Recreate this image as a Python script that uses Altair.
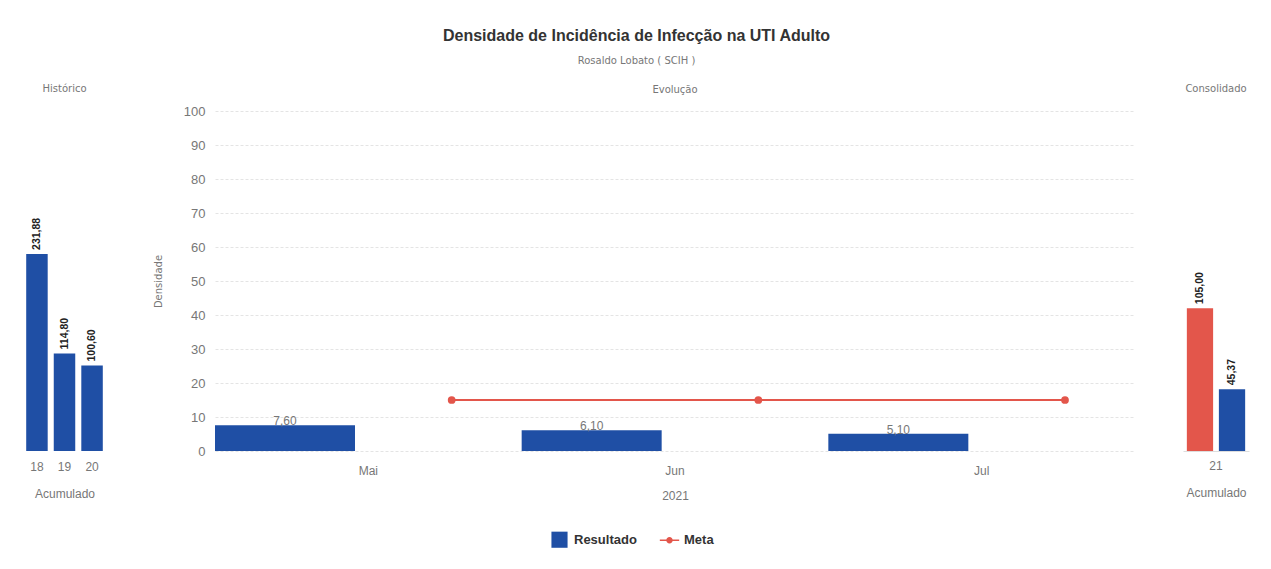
import altair as alt
import pandas as pd

# ---------------- data ----------------
meses = ["Mai", "Jun", "Jul"]
resultado = [7.60, 6.10, 5.10]
meta = [15.0, 15.0, 15.0]
series = ["Resultado", "Meta"]

hist_anos = ["18", "19", "20"]
hist_vals = [231.88, 114.80, 100.60]

cons_anos = ["21", "21"]
cons_series = ["Meta", "Resultado"]
cons_vals = [105.00, 45.37]

BLUE = "#1f4fa5"
RED = "#e3564b"
FONT = "Liberation Sans"
SMALL_FONT = "DejaVu Sans"
GRAY = "#777777"


def br(v):
    return f"{v:.2f}".replace(".", ",")


evo = pd.DataFrame(
    [{"mes": m, "serie": "Resultado", "valor": v, "rotulo": br(v)} for m, v in zip(meses, resultado)]
    + [{"mes": m, "serie": "Meta", "valor": v, "rotulo": br(v)} for m, v in zip(meses, meta)]
)
hist = pd.DataFrame({"ano": hist_anos, "valor": hist_vals, "rotulo": [br(v) for v in hist_vals]})
cons = pd.DataFrame({"ano_c": cons_anos, "serie_c": cons_series, "valor_c": cons_vals,
                     "rotulo": [br(v) for v in cons_vals]})

color_scale = alt.Scale(domain=series, range=[BLUE, RED])
LEGEND_PATH = ("M-1.2,-0.1 L1.2,-0.1 L1.2,0.1 L-1.2,0.1 Z "
               "M-0.4,0 A0.4,0.4 0 1,1 0.4,0 A0.4,0.4 0 1,1 -0.4,0 Z")

sub_title = dict(fontSize=10, color=GRAY, fontWeight="normal", font=SMALL_FONT, anchor="middle")

# ---------------- left panel: Histórico ----------------
left_base = alt.Chart(hist).encode(
    x=alt.X("ano:N", sort=hist_anos,
            scale=alt.Scale(paddingInner=0.22, paddingOuter=0.08),
            axis=alt.Axis(title="Acumulado", labelAngle=0, domain=False, ticks=False,
                          labelPadding=10, titlePadding=16)),
    y=alt.Y("valor:Q", scale=alt.Scale(domain=[0, 400]), axis=None),
)
left = alt.layer(
    left_base.mark_bar(color=BLUE),
    left_base.mark_text(angle=270, align="left", baseline="middle", dx=4,
                        fontWeight="bold", fontSize=10.5, color="#222222", font=FONT).encode(text="rotulo:N"),
).properties(width=81, height=340, title=alt.TitleParams("Histórico", offset=17, **sub_title))

# ---------------- center panel: Evolução ----------------
cbase = alt.Chart(evo).encode(
    x=alt.X("mes:N", sort=meses, scale=alt.Scale(paddingInner=0, paddingOuter=0),
            axis=alt.Axis(title="2021", labelAngle=0, domain=False, ticks=False,
                          labelPadding=14, titlePadding=14)),
    xOffset=alt.XOffset("serie:N", sort=series,
                        scale=alt.Scale(domain=series, paddingInner=0.16, paddingOuter=0.0)),
    y=alt.Y("valor:Q", scale=alt.Scale(domain=[0, 100]),
            axis=alt.Axis(title="Densidade", values=list(range(0, 101, 10)), domain=False, ticks=False,
                          grid=True, gridColor="#e4e4e4", gridDash=[3, 2], labelPadding=10,
                          labelFontSize=13, titleFontSize=10, titleFont=SMALL_FONT, titlePadding=20)),
)
bars = cbase.transform_filter(alt.datum.serie == "Resultado").mark_bar().encode(
    color=alt.Color("serie:N", scale=color_scale,
                    legend=alt.Legend(orient="none", legendX=527, legendY=420,
                                      direction="horizontal", title=None,
                                      symbolOpacity=1, labelFontWeight="bold", labelFontSize=13,
                                      labelColor="#333333", labelFont=FONT, symbolSize=260,
                                      symbolStrokeWidth=0, columnPadding=22, labelOffset=6)),
)
bar_labels = cbase.transform_filter(alt.datum.serie == "Resultado").mark_text(
    baseline="bottom", dy=3, fontSize=12, color=GRAY, font=FONT).encode(text="rotulo:N")
meta_line = cbase.transform_filter(alt.datum.serie == "Meta").mark_line(strokeWidth=2).encode(
    color=alt.Color("serie:N", scale=color_scale))
meta_pts = cbase.transform_filter(alt.datum.serie == "Meta").mark_circle(size=60, opacity=1).encode(
    color=alt.Color("serie:N", scale=color_scale))
legend_layer = cbase.mark_point(opacity=0, filled=True).encode(
    color=alt.Color("serie:N", scale=color_scale),
    shape=alt.Shape("serie:N", scale=alt.Scale(domain=series, range=["square", LEGEND_PATH])),
)
center = alt.layer(bars, bar_labels, meta_line, meta_pts, legend_layer).properties(
    width=920, height=340, title=alt.TitleParams("Evolução", offset=10, **sub_title))

# ---------------- right panel: Consolidado ----------------
rbase = alt.Chart(cons).encode(
    x=alt.X("ano_c:N", scale=alt.Scale(paddingInner=0, paddingOuter=0),
            axis=alt.Axis(title="Acumulado", labelAngle=0, domain=True, domainColor="#dddddd",
                          ticks=False, labelPadding=9, titlePadding=16)),
    xOffset=alt.XOffset("serie_c:N", sort=cons_series,
                        scale=alt.Scale(domain=cons_series, paddingInner=0.18, paddingOuter=0.12)),
    y=alt.Y("valor_c:Q", scale=alt.Scale(domain=[0, 250]), axis=None),
)
right = alt.layer(
    rbase.mark_bar().encode(color=alt.Color("serie_c:N", scale=color_scale, legend=None)),
    rbase.mark_text(angle=270, align="left", baseline="middle", dx=4,
                    fontWeight="bold", fontSize=10.5, color="#222222", font=FONT).encode(text="rotulo:N"),
).properties(width=66, height=340, title=alt.TitleParams("Consolidado", offset=17, **sub_title))

chart = alt.hconcat(left, center, right, spacing=48).resolve_scale(
    x="independent", xOffset="independent", y="independent"
).properties(
    title=alt.TitleParams("Densidade de Incidência de Infecção na UTI Adulto",
                          subtitle="Rosaldo Lobato ( SCIH )", fontSize=16, fontWeight="bold",
                          font=FONT, color="#333333", subtitleFontSize=10, subtitleColor=GRAY,
                          subtitleFont=SMALL_FONT, subtitlePadding=12, anchor="middle", offset=18),
    padding={"left": 16, "top": 20, "right": 10, "bottom": 5},
).configure_view(stroke=None).configure_axis(
    labelFont=FONT, titleFont=FONT, labelColor=GRAY, titleColor=GRAY, labelFontSize=12,
    titleFontSize=12, titleFontWeight="normal"
)

chart.save("out.html", embed_options={"renderer": "svg", "actions": False})
